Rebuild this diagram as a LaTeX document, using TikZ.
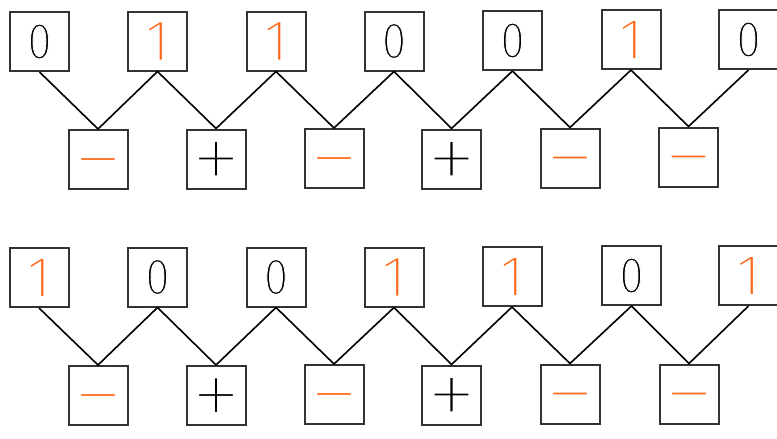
\documentclass[tikz,border=0pt]{standalone}
\usepackage{fontspec}
% a light sans for the symbols, with fall-backs
\IfFontExistsTF{Fira Sans Light}
  {\newfontfamily\glyphfont{Fira Sans Light}}
  {\IfFontExistsTF{Open Sans Light}
    {\newfontfamily\glyphfont{Open Sans Light}}
    {\IfFontExistsTF{DejaVuSans-ExtraLight.ttf}
      {\newfontfamily\glyphfont{DejaVuSans-ExtraLight.ttf}}
      {\newfontfamily\glyphfont{Liberation Sans}}}}
% thin a glyph's strokes: fill it, then stroke its outline in white
\newcommand\thinglyph[2]{\special{pdf:code 2 Tr 1 1 1 RG #1 w}#2\special{pdf:code 0 Tr}}
\definecolor{markorange}{HTML}{FF6A1A}
\definecolor{framegray}{HTML}{333333}

\begin{document}
\begin{tikzpicture}[x=1pt,y=-1pt,
  cell/.style={draw=framegray, line width=2pt, minimum size=59pt, inner sep=0pt},
  one/.style={cell, text=markorange, font=\glyphfont\fontsize{58}{58}\selectfont},
  zero/.style={cell, text=black, font=\glyphfont\fontsize{51}{51}\selectfont},
  sign/.style={cell, font=\glyphfont\fontsize{104}{104}\selectfont, text height=0pt, text depth=0pt},
  minus/.style={sign, text=markorange},
  plus/.style={sign, text=black},
  link/.style={draw=black, line width=1.6pt}]
\useasboundingbox (0,0) rectangle (777,439);

\newcommand\zerotext{\scalebox{0.85}[1]{\thinglyph{1}{0}}}
\newcommand\onetext{\thinglyph{1.2}{1}}
\newcommand\minustext{\raisebox{-34pt}{\thinglyph{3.4}{−}}}
\newcommand\plustext{\raisebox{-34pt}{\thinglyph{3.4}{+}}}

% first row of bits
\node[zero] (a1) at (39.5,41.5) {\zerotext};
\node[one]  (a2) at (157.5,41)  {\onetext};
\node[one]  (a3) at (276,41)    {\onetext};
\node[zero] (a4) at (394,41)    {\zerotext};
\node[zero] (a5) at (512.5,40.5){\zerotext};
\node[one]  (a6) at (631,39.5)  {\onetext};
\node[zero] (a7) at (748.5,39.5){\zerotext};
% signs between neighbouring bits
\node[minus] (p1) at (98,159.5)  {\minustext};
\node[plus]  (p2) at (216,159)   {\plustext};
\node[minus] (p3) at (334,158.5) {\minustext};
\node[plus]  (p4) at (451.5,159) {\plustext};
\node[minus] (p5) at (570,158)   {\minustext};
\node[minus] (p6) at (688.5,157) {\minustext};

% second row of bits
\node[one]  (b1) at (39,277.5)   {\onetext};
\node[zero] (b2) at (157.5,277)  {\zerotext};
\node[zero] (b3) at (276,277)    {\zerotext};
\node[one]  (b4) at (394,277)    {\onetext};
\node[one]  (b5) at (512,276.5)  {\onetext};
\node[zero] (b6) at (631.5,275.5){\zerotext};
\node[one]  (b7) at (748.5,275.5){\onetext};
% signs between neighbouring bits
\node[minus] (q1) at (98,395.5)  {\minustext};
\node[plus]  (q2) at (216,395.5) {\plustext};
\node[minus] (q3) at (334,394.5) {\minustext};
\node[plus]  (q4) at (451.5,395) {\plustext};
\node[minus] (q5) at (570,394)   {\minustext};
\node[minus] (q6) at (689,394)   {\minustext};

% zig-zag connectors
\foreach \i/\j in {1/2,2/3,3/4,4/5,5/6,6/7}{
  \draw[link] (a\i.south) -- (p\i.north) -- (a\j.south);
  \draw[link] (b\i.south) -- (q\i.north) -- (b\j.south);
}
\end{tikzpicture}
\end{document}
